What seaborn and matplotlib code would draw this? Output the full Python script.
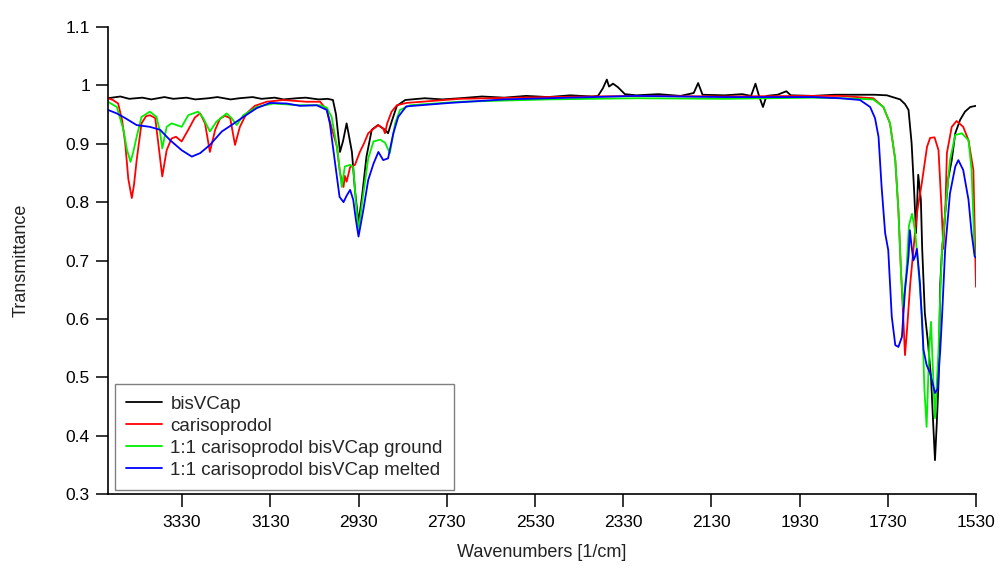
import numpy as np
import pandas as pd
import matplotlib
matplotlib.use("Agg")
import matplotlib.pyplot as plt
import seaborn as sns

# FTIR spectra: wavenumber [1/cm] and transmittance for each sample
bis_wn = [3498, 3470, 3450, 3420, 3400, 3370, 3350, 3320, 3300, 3270, 3250, 3220, 3200, 3170,
          3150, 3120, 3100, 3070, 3050, 3020, 3000, 2988, 2981, 2972, 2965, 2957, 2952, 2945,
          2938, 2930, 2922, 2912, 2900, 2886, 2870, 2863, 2854, 2843, 2824, 2780, 2740, 2700,
          2650, 2600, 2550, 2500, 2450, 2400, 2387, 2376, 2367, 2362, 2353, 2342, 2326, 2300,
          2250, 2200, 2170, 2160, 2150, 2100, 2060, 2040, 2030, 2022, 2013, 2005, 1980, 1960,
          1950, 1900, 1850, 1800, 1760, 1732, 1702, 1691, 1683, 1676, 1670, 1666, 1661, 1655,
          1652, 1646, 1639, 1632, 1627, 1623, 1619, 1615, 1611, 1607, 1600, 1593, 1585, 1577,
          1566, 1555, 1543, 1530]
bis_t = [0.978, 0.981, 0.977, 0.979, 0.976, 0.980, 0.977, 0.979, 0.976, 0.978, 0.980, 0.976,
         0.978, 0.980, 0.977, 0.979, 0.976, 0.978, 0.979, 0.976, 0.977, 0.975, 0.950, 0.886,
         0.905, 0.935, 0.915, 0.886, 0.820, 0.765, 0.810, 0.878, 0.924, 0.932, 0.924, 0.918,
         0.940, 0.965, 0.975, 0.978, 0.976, 0.978, 0.981, 0.979, 0.982, 0.980, 0.983, 0.981,
         0.982, 0.995, 1.010, 0.998, 1.003, 0.997, 0.985, 0.983, 0.985, 0.982, 0.987, 1.004,
         0.984, 0.983, 0.985, 0.982, 1.003, 0.982, 0.963, 0.982, 0.984, 0.990, 0.983, 0.982,
         0.984, 0.984, 0.984, 0.983, 0.976, 0.968, 0.958, 0.901, 0.815, 0.747, 0.847, 0.804,
         0.720, 0.610, 0.560, 0.500, 0.420, 0.358, 0.420, 0.490, 0.661, 0.718, 0.780, 0.840,
         0.872, 0.918, 0.941, 0.955, 0.963, 0.965]

car_wn = [3498, 3487, 3475, 3466, 3459, 3452, 3444, 3439, 3433, 3422, 3412, 3403, 3391, 3384,
          3375, 3365, 3354, 3344, 3331, 3316, 3301, 3289, 3278, 3267, 3255, 3244, 3233, 3221,
          3210, 3199, 3184, 3165, 3138, 3101, 3048, 3017, 3002, 2992, 2979, 2972, 2964, 2961,
          2957, 2949, 2938, 2927, 2918, 2908, 2897, 2885, 2874, 2870, 2865, 2855, 2843, 2821,
          2700, 2500, 2300, 2100, 1900, 1838, 1763, 1740, 1725, 1713, 1706, 1700, 1695, 1691,
          1687, 1679, 1672, 1664, 1653, 1641, 1634, 1624, 1615, 1608, 1604, 1599, 1596, 1585,
          1574, 1559, 1547, 1536, 1530]
car_t = [0.978, 0.975, 0.969, 0.940, 0.901, 0.840, 0.807, 0.830, 0.872, 0.935, 0.947, 0.949,
         0.944, 0.901, 0.844, 0.889, 0.909, 0.912, 0.904, 0.924, 0.945, 0.952, 0.935, 0.886,
         0.924, 0.943, 0.948, 0.944, 0.898, 0.929, 0.952, 0.965, 0.972, 0.975, 0.972, 0.972,
         0.958, 0.930, 0.895, 0.850, 0.826, 0.845, 0.835, 0.860, 0.864, 0.886, 0.900, 0.918,
         0.925, 0.932, 0.926, 0.918, 0.935, 0.955, 0.966, 0.970, 0.977, 0.980, 0.982, 0.981,
         0.982, 0.982, 0.978, 0.963, 0.935, 0.872, 0.787, 0.680, 0.604, 0.538, 0.575, 0.661,
         0.718, 0.781, 0.832, 0.895, 0.910, 0.911, 0.889, 0.787, 0.720, 0.800, 0.884, 0.929,
         0.939, 0.929, 0.906, 0.855, 0.655]

grd_wn = [3498, 3478, 3471, 3463, 3455, 3447, 3441, 3433, 3422, 3403, 3388, 3380, 3375, 3365,
          3354, 3331, 3316, 3294, 3282, 3267, 3252, 3229, 3218, 3206, 3191, 3161, 3123, 3063,
          3017, 3002, 2991, 2979, 2968, 2961, 2949, 2942, 2936, 2930, 2919, 2908, 2896, 2881,
          2870, 2859, 2847, 2836, 2813, 2700, 2500, 2300, 2100, 1900, 1838, 1763, 1740, 1725,
          1713, 1706, 1700, 1695, 1688, 1682, 1675, 1668, 1661, 1652, 1647, 1642, 1636, 1632,
          1627, 1623, 1615, 1611, 1607, 1596, 1589, 1577, 1562, 1547, 1540, 1533, 1530]
grd_t = [0.972, 0.963, 0.945, 0.924, 0.890, 0.869, 0.885, 0.912, 0.946, 0.955, 0.946, 0.920,
         0.892, 0.929, 0.935, 0.929, 0.949, 0.955, 0.944, 0.921, 0.938, 0.952, 0.944, 0.932,
         0.949, 0.963, 0.969, 0.966, 0.966, 0.962, 0.946, 0.895, 0.826, 0.861, 0.864, 0.860,
         0.800, 0.752, 0.815, 0.875, 0.904, 0.907, 0.902, 0.884, 0.935, 0.958, 0.966, 0.972,
         0.976, 0.978, 0.977, 0.979, 0.978, 0.976, 0.963, 0.935, 0.872, 0.787, 0.680, 0.620,
         0.680, 0.760, 0.780, 0.750, 0.690, 0.600, 0.480, 0.415, 0.550, 0.595, 0.500, 0.430,
         0.547, 0.644, 0.718, 0.815, 0.872, 0.915, 0.918, 0.906, 0.855, 0.712, 0.705]

mlt_wn = [3498, 3478, 3459, 3433, 3403, 3380, 3357, 3331, 3308, 3289, 3267, 3240, 3218, 3191,
          3161, 3131, 3093, 3063, 3025, 3002, 2995, 2983, 2973, 2964, 2957, 2949, 2942, 2936,
          2930, 2919, 2908, 2896, 2885, 2874, 2863, 2851, 2840, 2822, 2723, 2600, 2400, 2300,
          2100, 1900, 1838, 1793, 1770, 1759, 1751, 1744, 1736, 1729, 1725, 1721, 1713, 1706,
          1698, 1691, 1683, 1680, 1676, 1672, 1668, 1664, 1657, 1649, 1642, 1634, 1623, 1617,
          1611, 1607, 1600, 1589, 1577, 1570, 1559, 1547, 1540, 1533, 1530]
mlt_t = [0.958, 0.952, 0.944, 0.932, 0.929, 0.924, 0.906, 0.889, 0.878, 0.884, 0.898, 0.921,
         0.932, 0.946, 0.961, 0.970, 0.969, 0.965, 0.966, 0.958, 0.935, 0.866, 0.809, 0.800,
         0.811, 0.821, 0.804, 0.770, 0.741, 0.787, 0.838, 0.866, 0.886, 0.872, 0.875, 0.918,
         0.946, 0.964, 0.970, 0.976, 0.980, 0.982, 0.980, 0.980, 0.978, 0.975, 0.963, 0.944,
         0.912, 0.826, 0.747, 0.718, 0.661, 0.604, 0.555, 0.552, 0.569, 0.649, 0.707, 0.752,
         0.724, 0.700, 0.707, 0.720, 0.661, 0.547, 0.521, 0.507, 0.473, 0.480, 0.547, 0.604,
         0.718, 0.815, 0.861, 0.872, 0.855, 0.804, 0.747, 0.707, 0.705]

labels = ["bisVCap", "carisoprodol", "1:1 carisoprodol bisVCap ground",
          "1:1 carisoprodol bisVCap melted"]
colors = ["#000000", "#ff0000", "#00ee00", "#0000ff"]

x_ticks = [3330, 3130, 2930, 2730, 2530, 2330, 2130, 1930, 1730, 1530]
y_ticks = [0.3, 0.4, 0.5, 0.6, 0.7, 0.8, 0.9, 1.0, 1.1]
y_tick_labels = ["0.3", "0.4", "0.5", "0.6", "0.7", "0.8", "0.9", "1", "1.1"]

frames = []
for name, wn, t in zip(labels, [bis_wn, car_wn, grd_wn, mlt_wn], [bis_t, car_t, grd_t, mlt_t]):
    frames.append(pd.DataFrame({"wn": wn, "T": t, "sample": name}))
df = pd.concat(frames, ignore_index=True)

sns.set_style("ticks")
plt.rcParams["font.family"] = ["Liberation Sans", "DejaVu Sans"]

fig = plt.figure(figsize=(10, 5.69), dpi=100)
ax = fig.add_axes([0.108, 0.1318, 0.868, 0.8207])

sns.lineplot(data=df, x="wn", y="T", hue="sample", hue_order=labels,
             palette=colors, linewidth=1.3, estimator=None, sort=True, ax=ax)

ax.set_xlim(3498, 1530)
ax.set_ylim(0.3, 1.1)
ax.set_xticks(x_ticks)
ax.set_xticklabels([str(v) for v in x_ticks])
ax.set_yticks(y_ticks)
ax.set_yticklabels(y_tick_labels)

for side in ["top", "right"]:
    ax.spines[side].set_visible(False)
for side in ["left", "bottom"]:
    ax.spines[side].set_linewidth(1.2)
    ax.spines[side].set_color("black")
ax.tick_params(axis="both", direction="out", length=9, width=1.1, colors="black",
               labelsize=12.5)
ax.tick_params(axis="x", pad=6)
ax.tick_params(axis="y", pad=4)

ax.set_xlabel("Wavenumbers [1/cm]", fontsize=13, color="#222222")
ax.set_ylabel("Transmittance", fontsize=13, color="#222222")
ax.xaxis.set_label_coords(0.5, -0.108)
ax.yaxis.set_label_coords(-0.09, 0.5)

leg = ax.legend(loc="lower left", bbox_to_anchor=(0.115, 0.1388),
                bbox_transform=fig.transFigure, borderaxespad=0,
                fontsize=13.5, frameon=True, fancybox=False, framealpha=1,
                edgecolor="#808080", handlelength=1.9, handletextpad=0.45,
                labelspacing=0.26, borderpad=0.6)
leg.get_frame().set_linewidth(1.0)
for line in leg.get_lines():
    line.set_linewidth(1.3)

fig.savefig("out.png", dpi=100)
